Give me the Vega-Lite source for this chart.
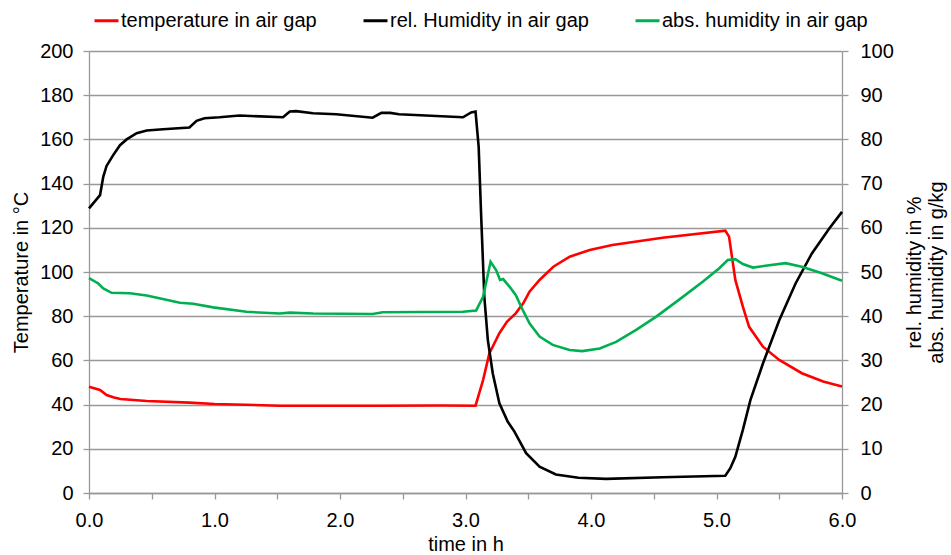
{
  "$schema": "https://vega.github.io/schema/vega-lite/v6.json",
  "width": 753,
  "height": 442,
  "autosize": {"type": "none"},
  "padding": {"left": 89, "top": 51, "right": 109, "bottom": 62},
  "config": {
    "font": "Liberation Sans",
    "view": {"stroke": null},
    "axis": {
      "labelFont": "Liberation Sans",
      "labelFontSize": 20,
      "labelColor": "#000000",
      "titleFont": "Liberation Sans",
      "titleFontSize": 20,
      "titleFontWeight": "normal",
      "titleColor": "#000000",
      "domainColor": "#999999",
      "tickColor": "#999999",
      "gridColor": "#999999",
      "tickSize": 6,
      "domainWidth": 1.3,
      "tickWidth": 1.3,
      "gridWidth": 1.3
    },
    "legend": {
      "labelFont": "Liberation Sans",
      "labelFontSize": 20,
      "labelColor": "#000000",
      "labelLimit": 400
    }
  },
  "datasets": {
    "temp": [
      {"h": 0, "series": "temperature in air gap", "v": 48.1},
      {"h": 0.088, "series": "temperature in air gap", "v": 46.6},
      {"h": 0.14, "series": "temperature in air gap", "v": 44.3},
      {"h": 0.2, "series": "temperature in air gap", "v": 43.2},
      {"h": 0.25, "series": "temperature in air gap", "v": 42.5},
      {"h": 0.46, "series": "temperature in air gap", "v": 41.6},
      {"h": 0.8, "series": "temperature in air gap", "v": 40.9},
      {"h": 1.0, "series": "temperature in air gap", "v": 40.3},
      {"h": 1.52, "series": "temperature in air gap", "v": 39.5},
      {"h": 2.0, "series": "temperature in air gap", "v": 39.5},
      {"h": 2.32, "series": "temperature in air gap", "v": 39.5},
      {"h": 2.8, "series": "temperature in air gap", "v": 39.6},
      {"h": 3.08, "series": "temperature in air gap", "v": 39.5},
      {"h": 3.14, "series": "temperature in air gap", "v": 51.1},
      {"h": 3.19, "series": "temperature in air gap", "v": 63.2},
      {"h": 3.27, "series": "temperature in air gap", "v": 72.3},
      {"h": 3.33, "series": "temperature in air gap", "v": 77.5},
      {"h": 3.4, "series": "temperature in air gap", "v": 81.3},
      {"h": 3.46, "series": "temperature in air gap", "v": 85.8},
      {"h": 3.51, "series": "temperature in air gap", "v": 91.1},
      {"h": 3.59, "series": "temperature in air gap", "v": 96.4},
      {"h": 3.7, "series": "temperature in air gap", "v": 102.4},
      {"h": 3.83, "series": "temperature in air gap", "v": 106.9},
      {"h": 3.99, "series": "temperature in air gap", "v": 110},
      {"h": 4.17, "series": "temperature in air gap", "v": 112.2},
      {"h": 4.57, "series": "temperature in air gap", "v": 115.5},
      {"h": 5.07, "series": "temperature in air gap", "v": 118.7},
      {"h": 5.1, "series": "temperature in air gap", "v": 116},
      {"h": 5.15, "series": "temperature in air gap", "v": 96.4},
      {"h": 5.21, "series": "temperature in air gap", "v": 84.3},
      {"h": 5.26, "series": "temperature in air gap", "v": 75.2},
      {"h": 5.37, "series": "temperature in air gap", "v": 66.2},
      {"h": 5.5, "series": "temperature in air gap", "v": 60.2},
      {"h": 5.68, "series": "temperature in air gap", "v": 54.2},
      {"h": 5.85, "series": "temperature in air gap", "v": 50.5},
      {"h": 6.0, "series": "temperature in air gap", "v": 48.2}
    ],
    "hum": [
      {"h": 0, "series": "rel. Humidity in air gap", "v": 64.4},
      {"h": 0.088, "series": "rel. Humidity in air gap", "v": 67.4},
      {"h": 0.114, "series": "rel. Humidity in air gap", "v": 71.6},
      {"h": 0.14, "series": "rel. Humidity in air gap", "v": 74},
      {"h": 0.194, "series": "rel. Humidity in air gap", "v": 76.5},
      {"h": 0.247, "series": "rel. Humidity in air gap", "v": 78.7},
      {"h": 0.3, "series": "rel. Humidity in air gap", "v": 80},
      {"h": 0.38, "series": "rel. Humidity in air gap", "v": 81.4},
      {"h": 0.46, "series": "rel. Humidity in air gap", "v": 82},
      {"h": 0.59, "series": "rel. Humidity in air gap", "v": 82.3},
      {"h": 0.8, "series": "rel. Humidity in air gap", "v": 82.7},
      {"h": 0.857, "series": "rel. Humidity in air gap", "v": 84.2},
      {"h": 0.92, "series": "rel. Humidity in air gap", "v": 84.8},
      {"h": 1.04, "series": "rel. Humidity in air gap", "v": 85},
      {"h": 1.2, "series": "rel. Humidity in air gap", "v": 85.4},
      {"h": 1.546, "series": "rel. Humidity in air gap", "v": 85},
      {"h": 1.6, "series": "rel. Humidity in air gap", "v": 86.3},
      {"h": 1.65, "series": "rel. Humidity in air gap", "v": 86.4},
      {"h": 1.785, "series": "rel. Humidity in air gap", "v": 85.9},
      {"h": 1.97, "series": "rel. Humidity in air gap", "v": 85.7},
      {"h": 2.26, "series": "rel. Humidity in air gap", "v": 84.9},
      {"h": 2.33, "series": "rel. Humidity in air gap", "v": 86},
      {"h": 2.4, "series": "rel. Humidity in air gap", "v": 86},
      {"h": 2.47, "series": "rel. Humidity in air gap", "v": 85.7},
      {"h": 2.98, "series": "rel. Humidity in air gap", "v": 85},
      {"h": 3.045, "series": "rel. Humidity in air gap", "v": 86.1},
      {"h": 3.08, "series": "rel. Humidity in air gap", "v": 86.3},
      {"h": 3.105, "series": "rel. Humidity in air gap", "v": 78.3},
      {"h": 3.124, "series": "rel. Humidity in air gap", "v": 63.3},
      {"h": 3.15, "series": "rel. Humidity in air gap", "v": 44.4},
      {"h": 3.178, "series": "rel. Humidity in air gap", "v": 34.6},
      {"h": 3.217, "series": "rel. Humidity in air gap", "v": 27.1},
      {"h": 3.27, "series": "rel. Humidity in air gap", "v": 20.3},
      {"h": 3.337, "series": "rel. Humidity in air gap", "v": 16.1},
      {"h": 3.39, "series": "rel. Humidity in air gap", "v": 13.9},
      {"h": 3.483, "series": "rel. Humidity in air gap", "v": 9},
      {"h": 3.59, "series": "rel. Humidity in air gap", "v": 5.95},
      {"h": 3.72, "series": "rel. Humidity in air gap", "v": 4.2},
      {"h": 3.9, "series": "rel. Humidity in air gap", "v": 3.46},
      {"h": 4.12, "series": "rel. Humidity in air gap", "v": 3.2},
      {"h": 4.57, "series": "rel. Humidity in air gap", "v": 3.55},
      {"h": 5.07, "series": "rel. Humidity in air gap", "v": 3.9},
      {"h": 5.11, "series": "rel. Humidity in air gap", "v": 5.6},
      {"h": 5.15, "series": "rel. Humidity in air gap", "v": 8.2},
      {"h": 5.21, "series": "rel. Humidity in air gap", "v": 14.3},
      {"h": 5.27, "series": "rel. Humidity in air gap", "v": 21},
      {"h": 5.37, "series": "rel. Humidity in air gap", "v": 29.3},
      {"h": 5.5, "series": "rel. Humidity in air gap", "v": 39.1},
      {"h": 5.63, "series": "rel. Humidity in air gap", "v": 47.4},
      {"h": 5.76, "series": "rel. Humidity in air gap", "v": 54.2},
      {"h": 5.9, "series": "rel. Humidity in air gap", "v": 59.9},
      {"h": 6.0, "series": "rel. Humidity in air gap", "v": 63.6},
      {"h": 0, "series": "abs. humidity in air gap", "v": 48.6},
      {"h": 0.074, "series": "abs. humidity in air gap", "v": 47.4},
      {"h": 0.114, "series": "abs. humidity in air gap", "v": 46.3},
      {"h": 0.18, "series": "abs. humidity in air gap", "v": 45.3},
      {"h": 0.326, "series": "abs. humidity in air gap", "v": 45.2},
      {"h": 0.46, "series": "abs. humidity in air gap", "v": 44.7},
      {"h": 0.724, "series": "abs. humidity in air gap", "v": 43.05},
      {"h": 0.83, "series": "abs. humidity in air gap", "v": 42.8},
      {"h": 0.99, "series": "abs. humidity in air gap", "v": 42},
      {"h": 1.255, "series": "abs. humidity in air gap", "v": 41},
      {"h": 1.52, "series": "abs. humidity in air gap", "v": 40.6},
      {"h": 1.6, "series": "abs. humidity in air gap", "v": 40.8},
      {"h": 1.785, "series": "abs. humidity in air gap", "v": 40.6},
      {"h": 2.26, "series": "abs. humidity in air gap", "v": 40.5},
      {"h": 2.34, "series": "abs. humidity in air gap", "v": 40.9},
      {"h": 2.98, "series": "abs. humidity in air gap", "v": 41},
      {"h": 3.085, "series": "abs. humidity in air gap", "v": 41.3},
      {"h": 3.14, "series": "abs. humidity in air gap", "v": 44.4},
      {"h": 3.2, "series": "abs. humidity in air gap", "v": 52.3},
      {"h": 3.245, "series": "abs. humidity in air gap", "v": 50.4},
      {"h": 3.275, "series": "abs. humidity in air gap", "v": 48.2},
      {"h": 3.3, "series": "abs. humidity in air gap", "v": 48.4},
      {"h": 3.35, "series": "abs. humidity in air gap", "v": 46.7},
      {"h": 3.4, "series": "abs. humidity in air gap", "v": 44.8},
      {"h": 3.456, "series": "abs. humidity in air gap", "v": 41.4},
      {"h": 3.51, "series": "abs. humidity in air gap", "v": 38.4},
      {"h": 3.59, "series": "abs. humidity in air gap", "v": 35.4},
      {"h": 3.695, "series": "abs. humidity in air gap", "v": 33.5},
      {"h": 3.83, "series": "abs. humidity in air gap", "v": 32.35},
      {"h": 3.93, "series": "abs. humidity in air gap", "v": 32.1},
      {"h": 4.07, "series": "abs. humidity in air gap", "v": 32.7},
      {"h": 4.2, "series": "abs. humidity in air gap", "v": 34.2},
      {"h": 4.36, "series": "abs. humidity in air gap", "v": 36.9},
      {"h": 4.52, "series": "abs. humidity in air gap", "v": 39.9},
      {"h": 4.7, "series": "abs. humidity in air gap", "v": 43.7},
      {"h": 4.89, "series": "abs. humidity in air gap", "v": 47.8},
      {"h": 5.02, "series": "abs. humidity in air gap", "v": 50.8},
      {"h": 5.09, "series": "abs. humidity in air gap", "v": 52.7},
      {"h": 5.15, "series": "abs. humidity in air gap", "v": 52.9},
      {"h": 5.21, "series": "abs. humidity in air gap", "v": 51.8},
      {"h": 5.29, "series": "abs. humidity in air gap", "v": 51},
      {"h": 5.39, "series": "abs. humidity in air gap", "v": 51.4},
      {"h": 5.55, "series": "abs. humidity in air gap", "v": 52},
      {"h": 5.68, "series": "abs. humidity in air gap", "v": 51.2},
      {"h": 5.84, "series": "abs. humidity in air gap", "v": 49.7},
      {"h": 6.0, "series": "abs. humidity in air gap", "v": 48}
    ]
  },
  "encoding": {
    "x": {
      "field": "h",
      "type": "quantitative",
      "scale": {"domain": [0, 6], "nice": false, "zero": false},
      "axis": {
        "title": "time in h",
        "values": [0, 0.5, 1, 1.5, 2, 2.5, 3, 3.5, 4, 4.5, 5, 5.5, 6],
        "labelExpr": "datum.value % 1 === 0 ? format(datum.value, '.1f') : ''",
        "grid": false,
        "labelPadding": 11,
        "titlePadding": 4,
        "labelFlush": false,
        "labelOverlap": false
      }
    },
    "color": {
      "field": "series",
      "type": "nominal",
      "scale": {
        "domain": ["temperature in air gap", "rel. Humidity in air gap", "abs. humidity in air gap"],
        "range": ["#ff0000", "#000000", "#00b050"]
      },
      "legend": {
        "title": null,
        "orient": "none",
        "direction": "horizontal",
        "legendX": 4,
        "legendY": -44,
        "symbolType": "stroke",
        "symbolSize": 576,
        "symbolStrokeWidth": 3,
        "labelOffset": 1,
        "columnPadding": 40,
        "padding": 0
      }
    }
  },
  "layer": [
    {
      "data": {"name": "temp"},
      "mark": {"type": "line", "strokeWidth": 2.6},
      "encoding": {
        "y": {
          "field": "v",
          "type": "quantitative",
          "scale": {"domain": [0, 200], "nice": false},
          "axis": {
            "title": "Temperature in °C",
            "values": [0, 20, 40, 60, 80, 100, 120, 140, 160, 180, 200],
            "grid": true,
            "labelPadding": 10,
            "titlePadding": 8
          }
        }
      }
    },
    {
      "data": {"name": "hum"},
      "mark": {"type": "line", "strokeWidth": 2.6},
      "encoding": {
        "y": {
          "field": "v",
          "type": "quantitative",
          "scale": {"domain": [0, 100], "nice": false},
          "axis": {
            "orient": "right",
            "title": ["rel. humidity in %", "abs. humidity in g/kg"],
            "titleAngle": -90,
            "titleLineHeight": 22,
            "values": [0, 10, 20, 30, 40, 50, 60, 70, 80, 90, 100],
            "grid": false,
            "labelPadding": 12,
            "titlePadding": 9
          }
        }
      }
    }
  ],
  "resolve": {"scale": {"y": "independent"}}
}
